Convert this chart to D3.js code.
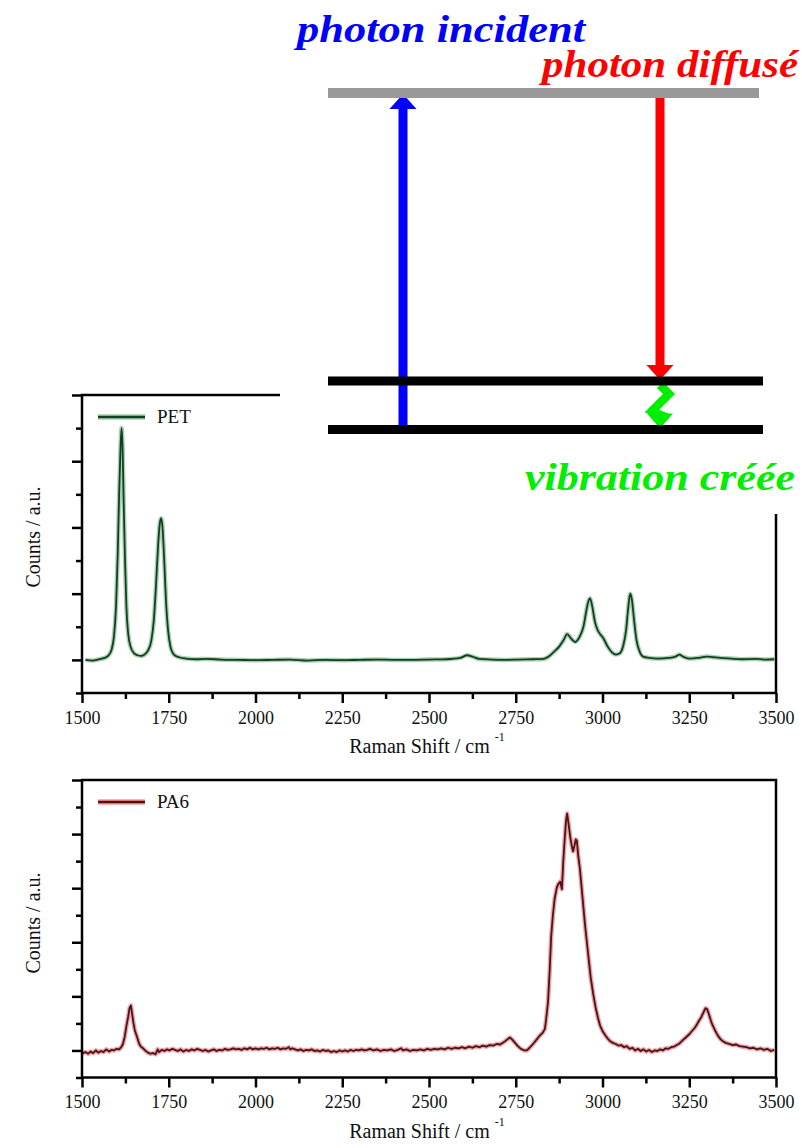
<!DOCTYPE html>
<html>
<head>
<meta charset="utf-8">
<script src="https://cdn.jsdelivr.net/npm/d3@7"></script>
<style>
  body { margin: 0; background: #fff; }
  svg { display: block; }
</style>
</head>
<body>
<div id="chart"></div>
<script>
// --- Data: PET spectrum ---
const petShift = [1510, 1530, 1550, 1565, 1575, 1585, 1592, 1598, 1603, 1607, 1611, 1614, 1617, 1620, 1624, 1628, 1633, 1640, 1650, 1660, 1670, 1680, 1690, 1700, 1707, 1713, 1719, 1724, 1728, 1732, 1737, 1742, 1748, 1755, 1765, 1780, 1800, 1830, 1860, 1900, 1950, 2000, 2050, 2100, 2150, 2200, 2250, 2300, 2350, 2400, 2450, 2500, 2550, 2590, 2610, 2625, 2645, 2680, 2720, 2760, 2800, 2830, 2845, 2860, 2875, 2888, 2898, 2910, 2921, 2935, 2945, 2952, 2958, 2964, 2970, 2978, 2986, 2993, 3002, 3015, 3028, 3039, 3050, 3060, 3068, 3074, 3080, 3085, 3091, 3098, 3106, 3117, 3135, 3160, 3190, 3210, 3222, 3232, 3250, 3275, 3300, 3320, 3340, 3370, 3400, 3440, 3470, 3495];
const petCounts = [0.00, -0.01, 0.01, 0.03, 0.06, 0.15, 0.35, 0.8, 1.6, 2.5, 3.2, 3.5, 3.2, 2.4, 1.5, 0.8, 0.4, 0.2, 0.1, 0.07, 0.06, 0.08, 0.14, 0.3, 0.6, 1.1, 1.7, 2.05, 2.14, 2.0, 1.5, 0.9, 0.45, 0.2, 0.08, 0.04, 0.02, 0.01, 0.015, 0.005, 0.0, -0.005, 0.0, 0.005, -0.01, 0.0, -0.005, 0.0, 0.005, 0.0, 0.0, 0.005, 0.01, 0.03, 0.07, 0.05, 0.015, 0.005, 0.0, 0.005, 0.01, 0.015, 0.05, 0.12, 0.2, 0.3, 0.39, 0.32, 0.27, 0.36, 0.5, 0.7, 0.86, 0.93, 0.82, 0.58, 0.45, 0.39, 0.33, 0.2, 0.11, 0.08, 0.1, 0.22, 0.45, 0.78, 1.0, 0.9, 0.6, 0.3, 0.14, 0.05, 0.03, 0.02, 0.03, 0.05, 0.08, 0.05, 0.02, 0.03, 0.05, 0.04, 0.03, 0.02, 0.01, 0.015, 0.005, 0.01];

// --- Data: PA6 spectrum ---
const pa6Shift = [1502, 1510, 1518, 1525, 1532, 1540, 1547, 1555, 1562, 1570, 1578, 1585, 1592, 1600, 1607, 1613, 1618, 1623, 1628, 1633, 1637, 1641, 1644, 1648, 1652, 1656, 1660, 1665, 1670, 1676, 1682, 1690, 1697, 1705, 1712, 1718, 1722, 1730, 1738, 1745, 1752, 1760, 1768, 1776, 1784, 1792, 1800, 1808, 1816, 1824, 1832, 1840, 1848, 1856, 1864, 1872, 1880, 1888, 1896, 1904, 1912, 1920, 1928, 1936, 1944, 1952, 1960, 1968, 1976, 1984, 1992, 2000, 2008, 2016, 2024, 2032, 2040, 2048, 2056, 2064, 2072, 2080, 2088, 2096, 2100, 2106, 2114, 2122, 2130, 2138, 2146, 2154, 2162, 2170, 2178, 2186, 2194, 2202, 2210, 2218, 2226, 2234, 2242, 2250, 2258, 2266, 2274, 2282, 2290, 2298, 2306, 2314, 2322, 2330, 2340, 2350, 2360, 2370, 2380, 2390, 2400, 2410, 2420, 2425, 2435, 2445, 2455, 2465, 2475, 2485, 2495, 2505, 2515, 2525, 2535, 2545, 2555, 2565, 2575, 2585, 2595, 2605, 2615, 2625, 2635, 2645, 2655, 2665, 2675, 2685, 2695, 2705, 2715, 2725, 2733, 2740, 2748, 2756, 2765, 2775, 2782, 2790, 2800, 2810, 2820, 2828, 2834, 2838, 2843, 2848, 2852, 2857, 2862, 2868, 2872, 2878, 2883, 2887, 2891, 2895, 2898, 2902, 2907, 2911, 2915, 2919, 2923, 2926, 2930, 2935, 2940, 2945, 2950, 2955, 2960, 2966, 2973, 2980, 2987, 2993, 3000, 3008, 3015, 3022, 3030, 3038, 3046, 3054, 3062, 3070, 3078, 3086, 3094, 3102, 3110, 3118, 3126, 3134, 3142, 3150, 3158, 3166, 3174, 3182, 3190, 3198, 3206, 3214, 3222, 3230, 3240, 3250, 3258, 3266, 3272, 3278, 3285, 3292, 3297, 3301, 3305, 3310, 3315, 3320, 3326, 3333, 3340, 3347, 3355, 3365, 3375, 3385, 3395, 3405, 3415, 3425, 3435, 3445, 3455, 3465, 3475, 3485, 3495];
const pa6Counts = [-0.05, -0.03, -0.06, -0.02, -0.05, 0.0, -0.04, -0.01, -0.03, 0.02, -0.02, 0.01, 0.0, 0.03, 0.02, 0.06, 0.12, 0.25, 0.45, 0.62, 0.78, 0.83, 0.7, 0.52, 0.38, 0.3, 0.22, 0.12, 0.07, 0.04, 0.0, -0.04, -0.06, -0.05, -0.07, 0.02, -0.03, 0.01, -0.01, 0.02, 0.0, 0.03, 0.01, -0.01, 0.02, -0.02, 0.01, -0.01, 0.02, 0.0, 0.03, 0.01, -0.01, 0.01, -0.02, 0.0, 0.02, -0.01, 0.01, 0.0, 0.03, 0.01, 0.02, 0.04, 0.02, 0.03, 0.01, 0.04, 0.02, 0.05, 0.02, 0.04, 0.02, 0.04, 0.03, 0.05, 0.02, 0.04, 0.03, 0.05, 0.02, 0.04, 0.03, 0.06, 0.02, 0.04, 0.02, 0.0, 0.02, -0.01, 0.01, 0.0, 0.02, -0.01, 0.0, -0.02, 0.01, -0.01, 0.0, -0.03, -0.01, -0.03, 0.0, -0.02, 0.0, -0.02, 0.01, -0.01, 0.01, 0.0, 0.02, 0.0, 0.01, 0.03, 0.0, 0.02, -0.01, 0.01, 0.0, 0.02, -0.01, 0.01, 0.04, 0.0, 0.02, -0.01, 0.01, 0.0, 0.02, 0.0, 0.03, 0.01, 0.03, 0.02, 0.04, 0.02, 0.05, 0.03, 0.05, 0.04, 0.06, 0.04, 0.07, 0.05, 0.08, 0.06, 0.09, 0.07, 0.1, 0.09, 0.12, 0.11, 0.15, 0.2, 0.24, 0.2, 0.14, 0.08, 0.03, 0.0, 0.0, 0.05, 0.12, 0.2, 0.28, 0.33, 0.4, 0.6, 0.9, 1.5, 2.1, 2.5, 2.8, 3.0, 3.07, 3.12, 2.98, 3.5, 3.9, 4.25, 4.38, 4.2, 3.95, 3.8, 3.68, 3.78, 3.9, 3.88, 3.6, 3.35, 3.0, 2.65, 2.3, 2.0, 1.7, 1.35, 1.05, 0.8, 0.6, 0.46, 0.36, 0.28, 0.22, 0.17, 0.14, 0.12, 0.09, 0.1, 0.06, 0.08, 0.03, 0.05, 0.0, 0.03, -0.01, 0.02, -0.02, 0.01, -0.03, 0.0, -0.01, 0.02, 0.0, 0.04, 0.03, 0.06, 0.07, 0.1, 0.13, 0.18, 0.24, 0.3, 0.36, 0.42, 0.48, 0.55, 0.62, 0.72, 0.78, 0.77, 0.7, 0.6, 0.5, 0.43, 0.35, 0.27, 0.21, 0.17, 0.14, 0.12, 0.1, 0.11, 0.08, 0.07, 0.06, 0.04, 0.05, 0.02, 0.04, 0.01, 0.03, -0.01, 0.01];

// --- Axis ticks ---
const xTicks = [1500, 1625, 1750, 1875, 2000, 2125, 2250, 2375, 2500, 2625, 2750, 2875, 3000, 3125, 3250, 3375, 3500];
const petYTicks = [-0.5, 0, 0.5, 1, 1.5, 2, 2.5, 3, 3.5, 4];
const pa6YTicks = [-0.5, 0, 0.5, 1, 1.5, 2, 2.5, 3, 3.5, 4, 4.5, 5];

// --- Energy diagram ---
const levelEnergy = [0, 1];
const virtualEnergy = 6.94;
const labels = ["photon incident", "photon diffusé", "vibration créée"];

const WIDTH = 802, HEIGHT = 1148;
const SERIF = "'Liberation Serif', 'Times New Roman', serif";

const svg = d3.select("#chart").append("svg")
    .attr("width", WIDTH)
    .attr("height", HEIGHT)
    .attr("viewBox", `0 0 ${WIDTH} ${HEIGHT}`);

svg.append("rect").attr("width", WIDTH).attr("height", HEIGHT).attr("fill", "#fff");

const x = d3.scaleLinear().domain([1500, 3500]).range([82, 776]);

function drawPanel(cfg) {
    const y = d3.scaleLinear().domain(cfg.yDomain).range([cfg.bottom, cfg.top]);
    const g = svg.append("g");

    // X axis
    const xa = g.append("g")
        .attr("transform", `translate(0,${cfg.bottom})`)
        .call(d3.axisBottom(x).tickValues(xTicks).tickSizeOuter(0)
            .tickFormat(d => d % 250 === 0 ? d : ""));
    xa.select(".domain").remove();
    xa.selectAll(".tick line")
        .attr("y2", d => d % 250 === 0 ? 10 : 6)
        .attr("stroke", "#000")
        .attr("stroke-width", 2.5);
    xa.selectAll(".tick text")
        .attr("y", 18)
        .attr("fill", "#111")
        .attr("font-family", SERIF)
        .attr("font-size", 18);

    // Y axis
    const ya = g.append("g")
        .attr("transform", `translate(82,0)`)
        .call(d3.axisLeft(y).tickValues(cfg.yTicks).tickSizeOuter(0).tickFormat(""));
    ya.select(".domain").remove();
    ya.selectAll(".tick line")
        .attr("x2", d => Number.isInteger(d) ? -10 : -6)
        .attr("stroke", "#000")
        .attr("stroke-width", 2.5);

    // Spectrum
    const pts = cfg.shift.map((s, i) => [s, cfg.counts[i]]);
    const line = d3.line()
        .x(d => x(d[0]))
        .y(d => y(d[1]))
        .curve(cfg.curve);
    g.append("path")
        .datum(pts)
        .attr("fill", "none")
        .attr("stroke", cfg.halo)
        .attr("stroke-opacity", 0.45)
        .attr("stroke-width", 4.5)
        .attr("stroke-linejoin", "round")
        .attr("d", line);
    g.append("path")
        .datum(pts)
        .attr("fill", "none")
        .attr("stroke", cfg.color)
        .attr("stroke-width", 1.8)
        .attr("stroke-linejoin", "round")
        .attr("d", line);

    // Frame
    g.append("rect")
        .attr("x", 82).attr("y", cfg.top)
        .attr("width", 694).attr("height", cfg.bottom - cfg.top)
        .attr("fill", "none")
        .attr("stroke", "#000")
        .attr("stroke-width", 2.5);

    // Legend
    const lg = g.append("g").attr("transform", `translate(98,${cfg.top + 22})`);
    lg.append("line").attr("x1", 0).attr("x2", 47)
        .attr("stroke", cfg.halo).attr("stroke-opacity", 0.7).attr("stroke-width", 5);
    lg.append("line").attr("x1", 0).attr("x2", 47)
        .attr("stroke", cfg.color).attr("stroke-width", 2);
    lg.append("text")
        .attr("x", 59).attr("y", 6)
        .attr("font-family", SERIF).attr("font-size", 19).attr("fill", "#111")
        .text(cfg.name);

    // Axis titles
    g.append("text")
        .attr("transform", `translate(40,${cfg.yTitleY}) rotate(-90)`)
        .attr("text-anchor", "middle")
        .attr("font-family", SERIF).attr("font-size", 20).attr("fill", "#111")
        .text("Counts / a.u.");

    const xt = g.append("text")
        .attr("x", 427).attr("y", cfg.bottom + 60)
        .attr("text-anchor", "middle")
        .attr("font-family", SERIF).attr("font-size", 20).attr("fill", "#111");
    xt.append("tspan").text("Raman Shift / cm ");
    xt.append("tspan").attr("dy", -12).attr("font-size", 12).text("-1");
}

drawPanel({
    name: "PET", shift: petShift, counts: petCounts,
    yDomain: [-0.5, 4], yTicks: petYTicks, top: 395, bottom: 693, yTitleY: 537,
    color: "#163d22", halo: "#3f9a55", curve: d3.curveMonotoneX
});

drawPanel({
    name: "PA6", shift: pa6Shift, counts: pa6Counts,
    yDomain: [-0.5, 5], yTicks: pa6YTicks, top: 780, bottom: 1077.5, yTitleY: 923,
    color: "#4a1418", halo: "#d8343c", curve: d3.curveLinear
});

// --- Raman scattering diagram (drawn over the PET frame) ---
const dia = svg.append("g");
dia.append("rect")
    .attr("x", 280).attr("y", 0).attr("width", WIDTH - 280).attr("height", 514)
    .attr("fill", "#fff");

const eY = d3.scaleLinear().domain([0, 1]).range([429.5, 381]);
const xIn = 403, xOut = 660;

// incident photon (blue, up)
dia.append("line")
    .attr("x1", xIn).attr("x2", xIn)
    .attr("y1", eY(0)).attr("y2", eY(virtualEnergy) + 14)
    .attr("stroke", "#0000ff").attr("stroke-width", 9);
dia.append("path")
    .attr("d", `M${xIn},${eY(virtualEnergy) + 1}L${xIn + 13.5},${eY(virtualEnergy) + 16}L${xIn - 13.5},${eY(virtualEnergy) + 16}Z`)
    .attr("fill", "#0000ff");

// scattered photon (red, down)
dia.append("line")
    .attr("x1", xOut).attr("x2", xOut)
    .attr("y1", eY(virtualEnergy)).attr("y2", eY(1) - 14)
    .attr("stroke", "#ff0000").attr("stroke-width", 9);
dia.append("path")
    .attr("d", `M${xOut},${eY(1) - 1}L${xOut + 13.5},${eY(1) - 16}L${xOut - 13.5},${eY(1) - 16}Z`)
    .attr("fill", "#ff0000");

// vibration created (green zigzag)
dia.append("polyline")
    .attr("points", [[xOut, eY(1) + 4], [xOut + 9, eY(1) + 13], [xOut - 8, eY(1) + 30], [xOut + 3, eY(1) + 35], [xOut, eY(1) + 39]].map(p => p.join(",")).join(" "))
    .attr("fill", "none")
    .attr("stroke", "#00ee00").attr("stroke-width", 8.5).attr("stroke-linejoin", "miter");
dia.append("path")
    .attr("d", `M${xOut},${eY(0) - 1}L${xOut + 13},${eY(0) - 16}L${xOut - 13},${eY(0) - 16}Z`)
    .attr("fill", "#00ee00");

// energy levels
dia.append("line")
    .attr("x1", 328).attr("x2", 759)
    .attr("y1", eY(virtualEnergy)).attr("y2", eY(virtualEnergy))
    .attr("stroke", "#999").attr("stroke-width", 10);
dia.selectAll(".level")
    .data(levelEnergy)
    .join("line")
    .attr("class", "level")
    .attr("x1", 328).attr("x2", 763)
    .attr("y1", d => eY(d)).attr("y2", d => eY(d))
    .attr("stroke", "#000").attr("stroke-width", 9);

// labels
const labelPos = [
    { x: 297, y: 42, w: 288, color: "#0000ff" },
    { x: 542, y: 77, w: 256, color: "#ff0000" },
    { x: 525, y: 490, w: 270, color: "#00ee00" }
];
dia.selectAll(".lbl")
    .data(labels)
    .join("text")
    .attr("class", "lbl")
    .attr("x", (d, i) => labelPos[i].x)
    .attr("y", (d, i) => labelPos[i].y)
    .attr("textLength", (d, i) => labelPos[i].w)
    .attr("lengthAdjust", "spacingAndGlyphs")
    .attr("fill", (d, i) => labelPos[i].color)
    .attr("font-family", SERIF)
    .attr("font-style", "italic")
    .attr("font-weight", "bold")
    .attr("font-size", 37)
    .text(d => d);
</script>
</body>
</html>
